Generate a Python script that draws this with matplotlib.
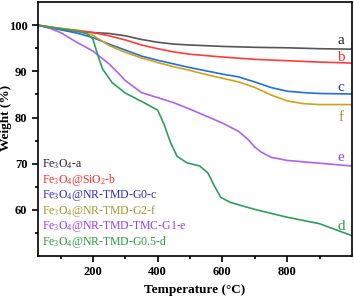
import matplotlib
matplotlib.use("Agg")
import matplotlib.pyplot as plt
from matplotlib.ticker import MultipleLocator

plt.rcParams['font.family'] = ['Liberation Serif', 'DejaVu Serif']
plt.rcParams['mathtext.default'] = 'regular'

T_a = [30, 60, 100, 150, 200, 250, 300, 350, 400, 450, 500, 600, 700, 800, 900, 1000]
W_a = [100, 99.6, 99.1, 98.7, 98.4, 98.2, 97.7, 96.9, 96.3, 95.9, 95.7, 95.4, 95.2, 95.1, 94.9, 94.8]

T_b = [30, 60, 100, 150, 200, 250, 300, 350, 400, 450, 500, 600, 700, 800, 900, 1000]
W_b = [100, 99.7, 99.3, 98.9, 98.4, 97.7, 96.8, 95.7, 94.9, 94.2, 93.7, 93.1, 92.6, 92.3, 92.0, 91.8]

T_c = [30, 60, 100, 150, 200, 250, 300, 350, 400, 450, 500, 550, 600, 650, 700, 750, 800, 850, 900, 1000]
W_c = [100, 99.5, 99.0, 98.3, 97.3, 95.9, 94.6, 93.3, 92.4, 91.6, 90.8, 90.1, 89.4, 88.8, 87.7, 86.5, 85.7, 85.4, 85.2, 85.1]

T_f = [30, 60, 100, 150, 200, 250, 300, 350, 400, 450, 500, 550, 600, 650, 700, 750, 800, 850, 900, 1000]
W_f = [100, 99.7, 99.3, 98.8, 97.8, 95.6, 94.1, 92.9, 91.9, 91.0, 90.2, 89.3, 88.5, 87.7, 86.5, 84.9, 83.6, 83.0, 82.8, 82.8]

T_e = [30, 60, 100, 150, 200, 250, 280, 300, 350, 400, 450, 500, 550, 600, 650, 680, 700, 720, 750, 800, 900, 1000]
W_e = [100, 99.5, 98.4, 96.3, 94.4, 91.6, 89.5, 88.0, 85.4, 84.3, 83.2, 81.8, 80.3, 78.8, 77.0, 75.2, 73.6, 72.5, 71.4, 70.7, 70.1, 69.5]

T_d = [30, 60, 100, 150, 180, 200, 215, 230, 260, 300, 350, 400, 420, 440, 460, 490, 530, 555, 575, 595, 625, 700, 800, 900, 1000]
W_d = [100, 99.6, 99.2, 98.7, 98.2, 97.0, 93.5, 90.5, 87.5, 85.3, 83.5, 81.6, 78.5, 74.5, 71.6, 70.2, 69.5, 68.0, 65.2, 62.7, 61.6, 60.1, 58.4, 57.0, 54.4]

end_labels = ['a', 'b', 'c', 'f', 'e', 'd']
legend_labels = ['Fe$_3$O$_4$-a', 'Fe$_3$O$_4$@SiO$_2$-b', 'Fe$_3$O$_4$@NR-TMD-G0-c',
                 'Fe$_3$O$_4$@NR-TMD-G2-f', 'Fe$_3$O$_4$@NR-TMD-TMC-G1-e', 'Fe$_3$O$_4$@NR-TMD-G0.5-d']
label_pos_W = [96.6, 93.0, 86.6, 80.0, 71.3, 56.5]

line_colors = ['#555555', '#ff3b3b', '#1f6fe0', '#d4a017', '#b060f0', '#2ca05a']
text_colors = ['#222222', '#ff2a2a', '#2b2bc8', '#9a9a30', '#9b3cf0', '#2e9a3a']

series = [(T_a, W_a), (T_b, W_b), (T_c, W_c), (T_f, W_f), (T_e, W_e), (T_d, W_d)]

fig = plt.figure(figsize=(3.54, 2.97), dpi=100)
ax = fig.add_axes([0.107, 0.138, 0.887, 0.855])

for (T, W), lc in zip(series, line_colors):
    ax.plot(T, W, color=lc, lw=1.2)

for lab, yw, tc in zip(end_labels, label_pos_W, text_colors):
    ax.text(966, yw, lab, color=tc, fontsize=11, ha='center', va='center')

for i, (lab, tc) in enumerate(zip(legend_labels, text_colors)):
    ax.text(0.012, 0.362 - i * 0.0615, lab, color=tc, fontsize=8.5,
            transform=ax.transAxes, ha='left', va='center')

ax.set_xlim(30, 1000)
ax.set_ylim(50, 105)
ax.set_xticks([200, 400, 600, 800])
ax.set_xticks([100, 300, 500, 700, 900], minor=True)
ax.set_yticks([60, 70, 80, 90, 100])
ax.set_yticks([55, 65, 75, 85, 95], minor=True)
ax.tick_params(which='both', direction='out', labelsize=9, width=1.2)
ax.tick_params(which='major', length=4)
ax.tick_params(which='minor', length=2.5)
for lab in ax.get_xticklabels() + ax.get_yticklabels():
    lab.set_fontweight('bold')
for s in ax.spines.values():
    s.set_linewidth(1.2)

ax.set_xlabel('Temperature (°C)', fontsize=9.5, fontweight='bold', labelpad=4)
ax.set_ylabel('Weight (%)', fontsize=9.5, fontweight='bold')
ax.yaxis.set_label_coords(-0.083, 0.543)

fig.savefig('out.png', dpi=100)
